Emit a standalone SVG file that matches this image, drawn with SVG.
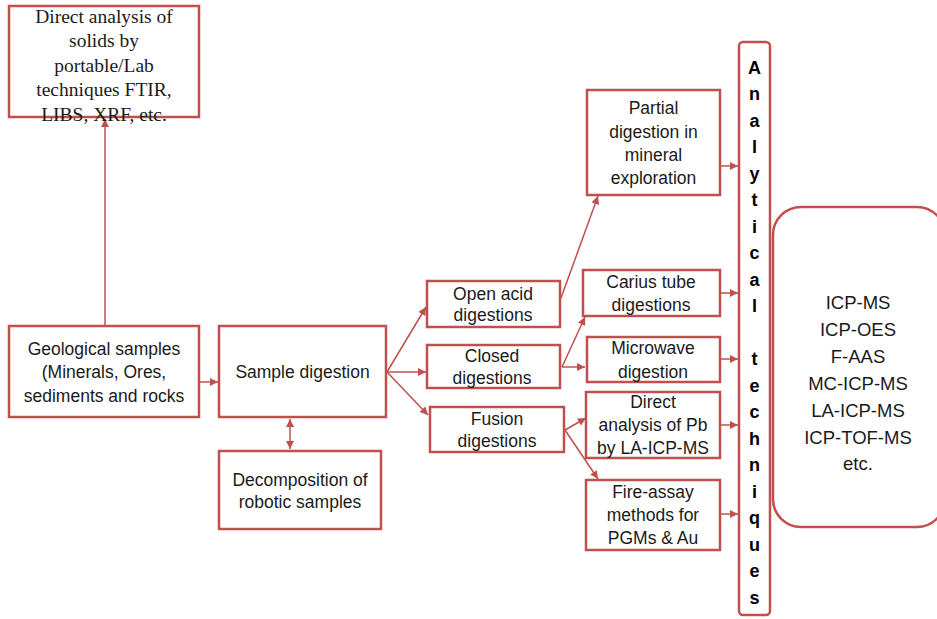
<svg xmlns="http://www.w3.org/2000/svg" width="937" height="619" viewBox="0 0 937 619">
<defs>
<marker id="ah" viewBox="0 0 10 10" refX="10" refY="5" markerWidth="9" markerHeight="8" markerUnits="userSpaceOnUse" orient="auto-start-reverse">
<path d="M0,0 L10,5 L0,10 z" fill="#c0504d"/>
</marker>
<style>
.box{fill:#fff;stroke:#c0504d;stroke-width:2.5}
.ln{fill:none;stroke:#c0504d;stroke-width:1.5}
.t{font-family:"Liberation Sans",Arial,sans-serif;font-size:17.5px;fill:#1a1a1a;text-anchor:middle}
.s{font-family:"Liberation Serif","Times New Roman",serif;font-size:19.5px;fill:#1a1a1a;text-anchor:middle}
.v{font-family:"Liberation Sans",Arial,sans-serif;font-size:18px;font-weight:bold;fill:#000;text-anchor:middle}
.r{font-family:"Liberation Sans",Arial,sans-serif;font-size:18.5px;fill:#1a1a1a;text-anchor:middle}
</style>
</defs>
<rect width="937" height="619" fill="#fff"/>
<g id="connectors">
<line class="ln" x1="105" y1="326" x2="105" y2="119" marker-end="url(#ah)"/>
<line class="ln" x1="199" y1="382" x2="218" y2="382" marker-end="url(#ah)"/>
<line class="ln" x1="290" y1="419" x2="290" y2="449" marker-start="url(#ah)" marker-end="url(#ah)"/>
<line class="ln" x1="387" y1="372" x2="426" y2="307" marker-end="url(#ah)"/>
<line class="ln" x1="387" y1="372" x2="426" y2="372" marker-end="url(#ah)"/>
<line class="ln" x1="387" y1="372" x2="428" y2="415" marker-end="url(#ah)"/>
<line class="ln" x1="561" y1="298" x2="598" y2="196" marker-end="url(#ah)"/>
<line class="ln" x1="562" y1="367" x2="585" y2="317" marker-end="url(#ah)"/>
<line class="ln" x1="562" y1="367" x2="585" y2="367" marker-end="url(#ah)"/>
<line class="ln" x1="565" y1="430" x2="586" y2="418" marker-end="url(#ah)"/>
<line class="ln" x1="565" y1="430" x2="598" y2="479" marker-end="url(#ah)"/>
<line class="ln" x1="721" y1="166" x2="738" y2="166" marker-end="url(#ah)"/>
<line class="ln" x1="721" y1="293" x2="738" y2="293" marker-end="url(#ah)"/>
<line class="ln" x1="721" y1="359" x2="738" y2="359" marker-end="url(#ah)"/>
<line class="ln" x1="721" y1="425" x2="738" y2="425" marker-end="url(#ah)"/>
<line class="ln" x1="721" y1="514" x2="738" y2="514" marker-end="url(#ah)"/>
</g>
<g id="direct-solids">
<rect class="box" x="9" y="6" width="190" height="111"/>
<text class="s" x="104" y="22.5">Direct analysis of</text>
<text class="s" x="104" y="47">solids by</text>
<text class="s" x="104" y="71.5">portable/Lab</text>
<text class="s" x="104" y="96">techniques FTIR,</text>
<text class="s" x="104" y="120.5">LIBS, XRF, etc.</text>
</g>
<g id="geological">
<rect class="box" x="9" y="326" width="190" height="91"/>
<text class="t" x="104" y="355">Geological samples</text>
<text class="t" x="104" y="378">(Minerals, Ores,</text>
<text class="t" x="104" y="401.5">sediments and rocks</text>
</g>
<g id="sample-digestion">
<rect class="box" x="219" y="326" width="167" height="91"/>
<text class="t" x="302.5" y="378">Sample digestion</text>
</g>
<g id="decomposition">
<rect class="box" x="219" y="451" width="162" height="78"/>
<text class="t" x="300" y="486">Decomposition of</text>
<text class="t" x="300" y="508">robotic samples</text>
</g>
<g id="open-acid">
<rect class="box" x="427" y="281" width="133" height="46"/>
<text class="t" x="493" y="300">Open acid</text>
<text class="t" x="493" y="320.5">digestions</text>
</g>
<g id="closed">
<rect class="box" x="427" y="345" width="133" height="43"/>
<text class="t" x="492" y="362">Closed</text>
<text class="t" x="492" y="384">digestions</text>
</g>
<g id="fusion">
<rect class="box" x="430" y="407" width="134" height="45"/>
<text class="t" x="497" y="425">Fusion</text>
<text class="t" x="497" y="447">digestions</text>
</g>
<g id="partial">
<rect class="box" x="587" y="90" width="133" height="105"/>
<text class="t" x="653.5" y="114">Partial</text>
<text class="t" x="653.5" y="137.5">digestion in</text>
<text class="t" x="653.5" y="161">mineral</text>
<text class="t" x="653.5" y="184">exploration</text>
</g>
<g id="carius">
<rect class="box" x="583" y="270" width="137" height="46"/>
<text class="t" x="651" y="288">Carius tube</text>
<text class="t" x="651" y="311">digestions</text>
</g>
<g id="microwave">
<rect class="box" x="587" y="337" width="133" height="45"/>
<text class="t" x="653" y="354">Microwave</text>
<text class="t" x="653" y="377.5">digestion</text>
</g>
<g id="direct-pb">
<rect class="box" x="586" y="392" width="134" height="66"/>
<text class="t" x="653" y="407.5">Direct</text>
<text class="t" x="653" y="431">analysis of Pb</text>
<text class="t" x="653" y="453.5">by LA-ICP-MS</text>
</g>
<g id="fire-assay">
<rect class="box" x="586" y="480" width="134" height="70"/>
<text class="t" x="653" y="498">Fire-assay</text>
<text class="t" x="653" y="521">methods for</text>
<text class="t" x="653" y="543.5">PGMs &amp; Au</text>
</g>
<g id="analytical">
<rect class="box" x="739" y="42" width="31" height="573" rx="4"/>
<text class="v" x="754.5" y="73.5">A</text>
<text class="v" x="754.5" y="100">n</text>
<text class="v" x="754.5" y="126.5">a</text>
<text class="v" x="754.5" y="153">l</text>
<text class="v" x="754.5" y="179.5">y</text>
<text class="v" x="754.5" y="206">t</text>
<text class="v" x="754.5" y="232.5">i</text>
<text class="v" x="754.5" y="259">c</text>
<text class="v" x="754.5" y="285.5">a</text>
<text class="v" x="754.5" y="312">l</text>
<text class="v" x="754.5" y="365">t</text>
<text class="v" x="754.5" y="391.5">e</text>
<text class="v" x="754.5" y="418">c</text>
<text class="v" x="754.5" y="444.5">h</text>
<text class="v" x="754.5" y="471">n</text>
<text class="v" x="754.5" y="497.5">i</text>
<text class="v" x="754.5" y="524">q</text>
<text class="v" x="754.5" y="550.5">u</text>
<text class="v" x="754.5" y="577">e</text>
<text class="v" x="754.5" y="603.5">s</text>
</g>
<g id="techniques">
<rect class="box" x="773" y="207" width="172" height="320" rx="28"/>
<text class="r" x="858" y="308.5">ICP-MS</text>
<text class="r" x="858" y="335.5">ICP-OES</text>
<text class="r" x="858" y="362.5">F-AAS</text>
<text class="r" x="858" y="389.5">MC-ICP-MS</text>
<text class="r" x="858" y="416.5">LA-ICP-MS</text>
<text class="r" x="858" y="443.5">ICP-TOF-MS</text>
<text class="r" x="858" y="469.5">etc.</text>
</g>
</svg>
